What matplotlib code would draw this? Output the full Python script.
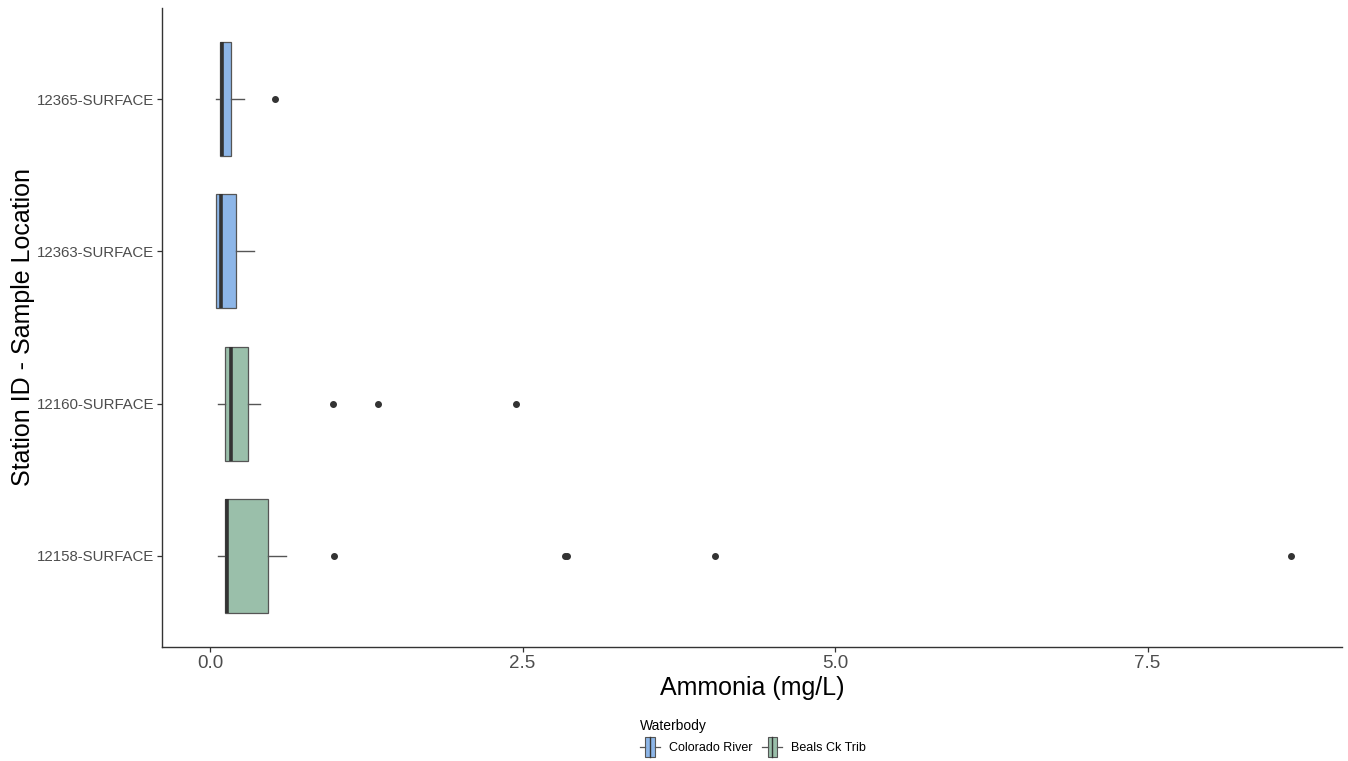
import matplotlib
matplotlib.use("Agg")
import matplotlib.pyplot as plt
from matplotlib.legend_handler import HandlerBase
from matplotlib.patches import Rectangle, Patch
from matplotlib.lines import Line2D

plt.rcParams['font.family'] = ['Liberation Sans', 'DejaVu Sans']

# stations listed bottom to top
stations = ["12158-SURFACE", "12160-SURFACE", "12363-SURFACE", "12365-SURFACE"]
waterbody = ["Beals Ck Trib", "Beals Ck Trib", "Colorado River", "Colorado River"]
whislo = [0.065, 0.06, 0.045, 0.048]
q1 = [0.12, 0.12, 0.045, 0.08]
med = [0.135, 0.165, 0.086, 0.092]
q3 = [0.46, 0.30, 0.21, 0.17]
whishi = [0.61, 0.40, 0.35, 0.27]
outliers = [[0.99, 2.84, 2.855, 4.04, 8.65], [0.98, 1.34, 2.45], [], [0.52]]

legend_order = ["Colorado River", "Beals Ck Trib"]
colors = {"Colorado River": "#8DB6E8", "Beals Ck Trib": "#9ABFAA"}

W, H = 1348, 761
fig = plt.figure(figsize=(W / 100, H / 100), dpi=100)
ax = fig.add_axes([162 / W, 1 - 647 / H, (1342 - 162) / W, (647 - 8) / H])

stats = []
for i in range(len(stations)):
    stats.append(dict(whislo=whislo[i], q1=q1[i], med=med[i], q3=q3[i],
                      whishi=whishi[i], fliers=outliers[i]))

bp = ax.bxp(stats, positions=range(1, len(stations) + 1), widths=0.75,
            orientation='horizontal', patch_artist=True, showcaps=False,
            boxprops=dict(edgecolor="#555555", linewidth=0.9),
            whiskerprops=dict(color="#555555", linewidth=1.0),
            medianprops=dict(color="#333333", linewidth=2.6),
            flierprops=dict(marker='o', markerfacecolor="#333333",
                            markeredgecolor="#333333", markersize=4.0))
for patch, wb in zip(bp['boxes'], waterbody):
    patch.set_facecolor(colors[wb])

ax.set_xlim(-0.384, 9.056)
ax.set_ylim(0.4, 4.6)
ax.set_xticks([0, 2.5, 5, 7.5])
ax.set_xticklabels(["0.0", "2.5", "5.0", "7.5"])
ax.set_yticks(range(1, len(stations) + 1))
ax.set_yticklabels(stations)

for s in ["top", "right"]:
    ax.spines[s].set_visible(False)
for s in ["left", "bottom"]:
    ax.spines[s].set_color("#333333")
    ax.spines[s].set_linewidth(1.0)

ax.tick_params(axis='y', length=3.5, width=0.9, color="#333333", labelsize=10.8,
               labelcolor="#4D4D4D", pad=2)
ax.tick_params(axis='x', length=3.5, width=0.9, color="#333333", labelsize=13.5,
               labelcolor="#4D4D4D", pad=2)
ax.set_xlabel("Ammonia (mg/L)", fontsize=18, labelpad=3)
ax.set_ylabel("Station ID - Sample Location", fontsize=18)
ax.yaxis.set_label_coords((35 - 162) / 1180, 0.5)


class BoxKey(HandlerBase):
    def create_artists(self, legend, orig_handle, xdescent, ydescent,
                       width, height, fontsize, trans):
        x0, y0 = -xdescent, -ydescent
        box = Rectangle((x0 + 0.27 * width, y0 - 0.1 * height), 0.46 * width, 1.2 * height,
                        facecolor=orig_handle.get_facecolor(), edgecolor="#555555",
                        linewidth=0.8, transform=trans)
        ym = y0 + height / 2
        wl = Line2D([x0, x0 + 0.27 * width], [ym, ym], color="#555555", lw=0.9, transform=trans)
        wr = Line2D([x0 + 0.73 * width, x0 + width], [ym, ym], color="#555555", lw=0.9, transform=trans)
        md = Line2D([x0 + 0.5 * width] * 2, [y0 - 0.1 * height, y0 + 1.1 * height],
                    color="#333333", lw=1.0, transform=trans)
        return [box, wl, wr, md]


handles = [Patch(facecolor=colors[k]) for k in legend_order]
fig.legend(handles, legend_order, handler_map={Patch: BoxKey()},
           loc='center', bbox_to_anchor=(753 / W, 1 - 737 / H), ncol=2,
           frameon=False, fontsize=9, title="Waterbody", title_fontsize=10,
           alignment='left', handlelength=1.6, handleheight=1.6,
           handletextpad=0.7, columnspacing=0.8)

fig.savefig("out.png", dpi=100)
